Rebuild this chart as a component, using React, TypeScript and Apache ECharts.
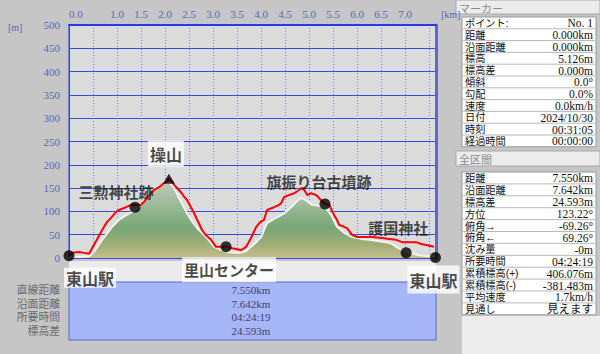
import React, { useEffect, useRef } from 'react';
import * as echarts from 'echarts';

// GPS track (red line): distance [km], elevation [m]
const trackKm = [0, 0.06, 0.21, 0.31, 0.42, 0.48, 0.58, 0.69, 0.79, 0.875, 0.98, 1.04, 1.19, 1.29, 1.375, 1.5, 1.56, 1.625, 1.71, 1.77, 1.875, 1.96, 2.02, 2.08, 2.15, 2.19, 2.27, 2.35, 2.4, 2.46, 2.54, 2.6, 2.67, 2.77, 2.85, 2.96, 3.06, 3.17, 3.27, 3.4, 3.58, 3.69, 3.79, 3.9, 3.98, 4.06, 4.125, 4.27, 4.375, 4.42, 4.48, 4.58, 4.69, 4.79, 4.83, 4.9, 4.96, 5.04, 5.15, 5.25, 5.33, 5.42, 5.52, 5.58, 5.625, 5.73, 5.79, 5.9, 6.0, 6.15, 6.31, 6.52, 6.67, 6.81, 6.94, 7.08, 7.23, 7.33, 7.44, 7.6];
const trackElev = [4, 11, 13, 11, 9, 21, 39, 60, 77, 86, 99, 103, 109, 114, 114, 114, 120, 129, 139, 146, 152, 159, 163, 170, 163, 157, 148, 139, 131, 124, 109, 97, 82, 60, 49, 39, 24, 24, 24, 21, 17, 24, 43, 67, 77, 82, 103, 109, 114, 118, 131, 135, 139, 146, 150, 146, 135, 139, 135, 124, 116, 114, 92, 82, 71, 67, 64, 49, 45, 45, 45, 43, 41, 39, 34, 34, 34, 30, 28, 24];

// terrain profile (filled area)
const terrainKm = [0, 0.21, 0.42, 0.52, 0.69, 0.875, 1.04, 1.19, 1.31, 1.46, 1.625, 1.81, 1.94, 2.02, 2.08, 2.19, 2.29, 2.44, 2.54, 2.67, 2.77, 2.875, 3.02, 3.17, 3.29, 3.44, 3.58, 3.69, 3.79, 3.9, 4.0, 4.06, 4.125, 4.27, 4.42, 4.52, 4.625, 4.73, 4.83, 4.94, 5.06, 5.21, 5.35, 5.46, 5.58, 5.73, 5.9, 6.08, 6.25, 6.46, 6.6, 6.73, 6.81, 6.94, 7.08, 7.29, 7.6];
const terrainElev = [2, 2, 4, 13, 39, 64, 82, 92, 99, 109, 129, 152, 157, 161, 163, 150, 129, 99, 82, 64, 54, 43, 24, 17, 13, 11, 11, 15, 24, 34, 45, 60, 75, 84, 92, 99, 109, 120, 129, 124, 114, 112, 107, 92, 67, 54, 45, 41, 39, 36, 34, 30, 24, 17, 11, 6, 2];

// waypoints
const markerNames = ['東山駅', '三勲神社跡', '操山', '里山センター', '旗振り台古墳跡', '護国神社', '東山駅'];
const markerKm = [0, 1.375, 2.08, 3.27, 5.33, 7.02, 7.63];
const markerElev = [5, 109, 170, 24, 116, 11, 1];

// axis tick labels
const xTickLabels = ['0.0', '1.0', '1.5', '2.0', '2.5', '3.0', '3.5', '4.0', '4.5', '5.0', '5.5', '6.0', '6.5', '7.0'];
const xMax = 7.642;

// side tables
const markerRows = ['ポイント:', '距離', '沿面距離', '標高', '標高差', '傾斜', '勾配', '速度', '日付', '時刻', '経過時間'];
const markerVals = ['No. 1', '0.000km', '0.000km', '5.126m', '0.000m', '0.0°', '0.0%', '0.0km/h', '2024/10/30', '00:31:05', '00:00:00'];
const sectionRows = ['距離', '沿面距離', '標高差', '方位', '俯角→', '俯角←', '沈み量', '所要時間', '累積標高(+)', '累積標高(-)', '平均速度', '見通し'];
const sectionVals = ['7.550km', '7.642km', '24.593m', '123.22°', '-69.26°', '69.26°', '-0m', '04:24:19', '406.076m', '-381.483m', '1.7km/h', '見えます'];
const summaryLabels = ['直線距離', '沿面距離', '所要時間', '標高差'];
const summaryVals = ['7.550km', '7.642km', '04:24:19', '24.593m'];

// label styling for waypoints (offset from point, font size, boxed)
const markerLabelStyle = [
  { offset: [21, 22], size: 16, box: true, pad: [2, 2] },
  { offset: [-19, -16], size: 15, box: false, pad: [0, 0] },
  { offset: [-3, -25], size: 16, box: true, pad: [5, 2] },
  { offset: [3, 23], size: 15, box: true, pad: [5, 2] },
  { offset: [-6, -22], size: 15, box: false, pad: [0, 0] },
  { offset: [-8, -25], size: 15, box: false, pad: [0, 0] },
  { offset: [-2, 22], size: 16, box: true, pad: [6, 2] },
];

const JP = '"Noto Sans CJK JP", sans-serif';
const JP_TIGHT = '"Liberation Sans", "Noto Sans CJK JP", sans-serif';
const SERIF = '"Liberation Serif", "Noto Sans CJK JP", serif';

function txt(text: string, x: number, y: number, size: number, family: string, fill: string, align = 'left', lh?: number) {
  return {
    type: 'text',
    z: 1,
    style: {
      text, x, y, fill,
      fontSize: size, fontFamily: family,
      lineHeight: lh ?? Math.round(size * 1.2),
      align, textAlign: align, verticalAlign: 'middle', textVerticalAlign: 'middle',
    },
  };
}

function buildTable(rows: string[], vals: string[], top: number, rowH: number) {
  const els: any[] = [];
  els.push({ type: 'rect', z: 0, shape: { x: 462, y: top, width: 134, height: rows.length * rowH }, style: { fill: '#ffffff', stroke: '#9a9a9a', lineWidth: 1 } });
  rows.forEach((r, i) => {
    const cy = top + rowH * i + rowH / 2;
    if (i > 0) {
      els.push({ type: 'line', z: 1, shape: { x1: 463, y1: top + rowH * i, x2: 595, y2: top + rowH * i }, style: { stroke: '#b8b8b8', lineWidth: 1 } });
    }
    els.push(txt(r, 465, cy + 0.5, 10.2, JP_TIGHT, '#101010', 'left', 10));
    els.push(txt(vals[i], 593, cy + 0.5, 11.5, SERIF, '#101010', 'right', 10));
  });
  return els;
}

export default function App() {
  const ref = useRef<HTMLDivElement>(null);
  useEffect(() => {
    const chart = echarts.init(ref.current!, null, { renderer: 'svg' });

    const graphic: any[] = [];
    // unit labels
    graphic.push(txt('[m]', 8, 27, 10, SERIF, '#5566bb'));
    graphic.push(txt('[km]', 441, 14, 10, SERIF, '#5566bb'));
    // strip and summary box under the plot
    graphic.push({ type: 'rect', z: 0, shape: { x: 69, y: 261, width: 367, height: 21 }, style: { fill: '#ebebeb' } });
    graphic.push({ type: 'rect', z: 0, shape: { x: 69, y: 282, width: 367, height: 58 }, style: { fill: '#a6b6f6', stroke: '#5a6ad0', lineWidth: 1 } });
    summaryLabels.forEach((l, i) => {
      const cy = 290 + i * 13.5;
      graphic.push(txt(l, 60, cy, 10.8, JP_TIGHT, '#6a6a6a', 'right', 12));
      graphic.push(txt(summaryVals[i], 251, cy, 11, SERIF, '#404070', 'center', 12));
    });
    // right panel
    graphic.push({ type: 'rect', z: 0, shape: { x: 456, y: 0, width: 144, height: 14 }, style: { fill: '#ececec', stroke: '#a8a8a8', lineWidth: 1 } });
    graphic.push(txt('マーカー', 459, 7.5, 11, JP, '#8a8a8a', 'left', 12));
    graphic.push(...buildTable(markerRows, markerVals, 17, 11.8));
    graphic.push({ type: 'rect', z: 0, shape: { x: 456, y: 151, width: 144, height: 15 }, style: { fill: '#ececec', stroke: '#a8a8a8', lineWidth: 1 } });
    graphic.push(txt('全区間', 459, 158.5, 11, JP, '#8a8a8a', 'left', 12));
    graphic.push(...buildTable(sectionRows, sectionVals, 172, 11.9));
    graphic.push({ type: 'rect', z: 0, shape: { x: 462, y: 316, width: 138, height: 38 }, style: { fill: '#ededed' } });

    const markerData = markerNames.map((name, i) => {
      const st = markerLabelStyle[i];
      return {
        value: [markerKm[i], markerElev[i]],
        name,
        symbol: name === '操山' ? 'triangle' : 'circle',
        symbolSize: name === '操山' ? [12, 10] : 11,
        label: {
          show: true,
          formatter: name,
          position: 'inside',
          offset: st.offset,
          fontSize: st.size,
          fontWeight: 'bold',
          fontFamily: JP,
          color: '#1a1a1a',
          backgroundColor: st.box ? '#ffffff' : 'transparent',
          padding: st.pad,
        },
      };
    });

    const option: any = {
      animation: false,
      backgroundColor: '#c6c6c6',
      grid: { left: 69, top: 25, width: 367, height: 233, show: true, backgroundColor: '#dcdcdc', borderColor: '#3040e0', borderWidth: 1 },
      xAxis: {
        type: 'value',
        position: 'top',
        min: 0,
        max: xMax,
        interval: 0.5,
        axisLine: { show: true, onZero: false, lineStyle: { color: '#2838e8', width: 2 } },
        axisTick: { show: false },
        axisLabel: {
          margin: 6,
          color: '#5566bb',
          fontSize: 11,
          fontFamily: SERIF,
          alignMinLabel: 'left',
          formatter: (v: number) => {
            const s = v.toFixed(1);
            return xTickLabels.includes(s) && Math.abs(v * 2 - Math.round(v * 2)) < 1e-6 ? s : '';
          },
        },
        splitLine: { show: true, lineStyle: { color: '#7080d8', type: [1, 2], width: 1 } },
      },
      yAxis: [
        {
          type: 'value',
          min: 0,
          max: 500,
          interval: 50,
          axisLine: { show: true, lineStyle: { color: '#3040e0', width: 1 } },
          axisTick: { show: false },
          axisLabel: { margin: 9, color: '#5566bb', fontSize: 11, fontFamily: SERIF },
          splitLine: { show: true, lineStyle: { color: '#3a4ae0', width: 1 } },
        },
        {
          type: 'value',
          position: 'right',
          min: 0,
          max: 500,
          interval: 50,
          axisLine: { show: true, lineStyle: { color: '#6464cc', width: 3 } },
          axisTick: { show: false },
          axisLabel: { show: false },
          splitLine: { show: false },
        },
      ],
      series: [
        {
          type: 'line',
          name: 'terrain',
          data: terrainKm.map((k, i) => [k, terrainElev[i]]),
          symbol: 'none',
          lineStyle: { color: '#f2f2f2', width: 2 },
          areaStyle: {
            opacity: 1,
            color: new echarts.graphic.LinearGradient(0, 0, 0, 1, [
              { offset: 0, color: '#c0c8ba' },
              { offset: 0.3, color: '#9cbb98' },
              { offset: 0.6, color: '#78a676' },
              { offset: 0.85, color: '#a4b078' },
              { offset: 1, color: '#c6be8e' },
            ]),
          },
          z: 2,
        },
        {
          type: 'line',
          name: 'track',
          data: trackKm.map((k, i) => [k, trackElev[i]]),
          symbol: 'none',
          lineStyle: { color: '#ff0000', width: 2 },
          z: 3,
        },
        {
          type: 'scatter',
          name: 'markers',
          data: markerData,
          itemStyle: { color: '#000000' },
          clip: false,
          z: 5,
        },
      ],
      graphic: { elements: graphic },
    };
    chart.setOption(option);
    return () => chart.dispose();
  }, []);
  return <div ref={ref} style={{ position: 'fixed', left: 0, top: 0, width: 600, height: 354 }} />;
}
